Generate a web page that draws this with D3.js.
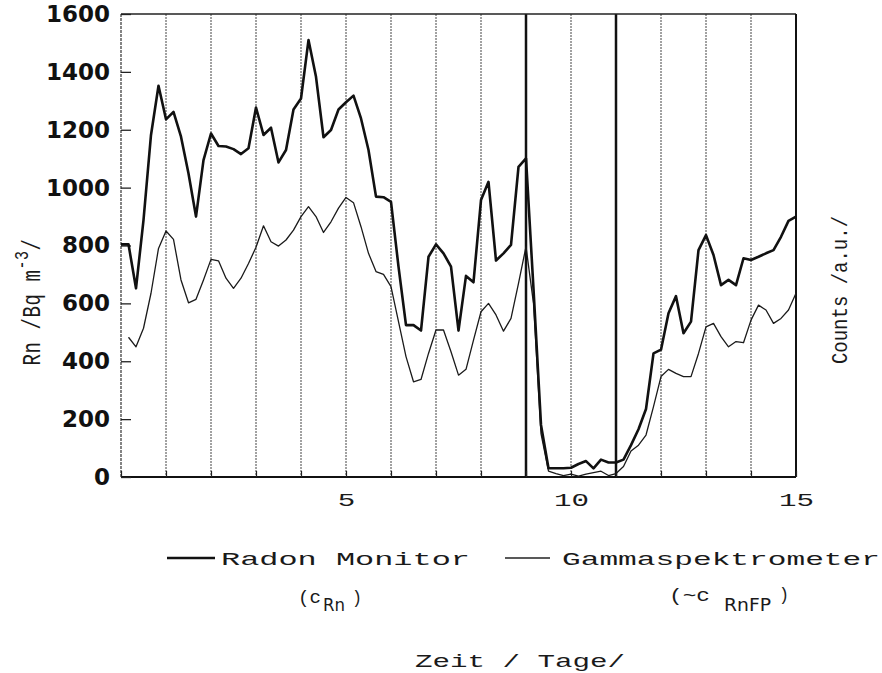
<!DOCTYPE html>
<html>
<head>
<meta charset="utf-8">
<script src="https://cdn.jsdelivr.net/npm/d3@7"></script>
<style>
body { margin: 0; background: #fff; }
svg { display: block; }
.typ { font-family: "Liberation Mono", "DejaVu Sans Mono", monospace; fill: #1a1a1a; }
.sub { font-family: "Liberation Sans Narrow", "DejaVu Sans Condensed", sans-serif; fill: #1a1a1a; }
</style>
</head>
<body>
<div id="chart-area"></div>
<script>
// readings every 4 hours (6 per day), day 0 .. 15
var stepsPerDay = 6;

// Radon Monitor (c_Rn), Bq m^-3
var radon = [
  804, 804, 652, 888, 1182, 1352,
  1236, 1262, 1176, 1049, 900, 1095,
  1187, 1144, 1142, 1133, 1116, 1136,
  1277, 1182, 1207, 1087, 1130, 1270,
  1308, 1510, 1383, 1174, 1199, 1270,
  1295, 1318, 1239, 1130, 969, 967,
  951, 727, 525, 525, 506, 761,
  804, 773, 727, 506, 695, 673,
  957, 1020, 748, 773, 802, 1072,
  1101, 650, 180, 30, 30, 30,
  32, 45, 55, 30, 60, 50,
  50, 60, 110, 165, 235, 427,
  440, 566, 625, 497, 537, 784,
  836, 767, 663, 681, 663, 756,
  750, 761, 773, 784, 830, 885,
  900
];

// Gammaspektrometer (~c_RnFP), counts (a.u.) on the same scale
var gamma = [
  null, 483, 450, 514, 635, 790,
  850, 821, 681, 602, 614, 681,
  752, 747, 687, 652, 687, 738,
  794, 868, 813, 798, 819, 853,
  900, 934, 900, 845, 882, 929,
  966, 948, 865, 773, 710, 700,
  658, 537, 416, 329, 337, 427,
  508, 508, 433, 352, 372, 473,
  571, 600, 560, 504, 548, 669,
  796, 600, 150, 20, 12, 5,
  10, 3, 10, 15, 20, 5,
  12, 36, 90, 110, 145, 243,
  347, 372, 358, 347, 347, 427,
  519, 531, 485, 450, 468, 464,
  542, 594, 577, 531, 548, 577,
  635
];

var yTicks = [0, 200, 400, 600, 800, 1000, 1200, 1400, 1600];
var xTicks = [0, 1, 2, 3, 4, 5, 6, 7, 8, 9, 10, 11, 12, 13, 14, 15];
var xLabels = [5, 10, 15];
var dayLines = [1, 2, 3, 4, 5, 6, 7, 8, 10, 12, 13, 14];
var markLines = [9, 11];

var W = 882, H = 673;
var margin = {top: 14, left: 121, right: 86, bottom: 196};
var width = W - margin.left - margin.right;
var height = H - margin.top - margin.bottom;

var svg = d3.select("#chart-area").append("svg")
  .attr("width", W).attr("height", H);

var g = svg.append("g")
  .attr("transform", "translate(" + margin.left + "," + margin.top + ")");

var x = d3.scaleLinear().domain([0, 15]).range([0, width]);
var y = d3.scaleLinear().domain([0, 1600]).range([height, 0]);

// dotted day lines
g.selectAll(".day").data(dayLines).enter().append("line")
  .attr("class", "day")
  .attr("x1", d => x(d)).attr("x2", d => x(d))
  .attr("y1", 0).attr("y2", height)
  .attr("stroke", "#444").attr("stroke-width", 1)
  .attr("stroke-dasharray", "2,1");

// heavy lines at day 9 and 11
g.selectAll(".mark").data(markLines).enter().append("line")
  .attr("class", "mark")
  .attr("x1", d => x(d)).attr("x2", d => x(d))
  .attr("y1", 0).attr("y2", height)
  .attr("stroke", "#111").attr("stroke-width", 2.5);

// frame
g.append("line").attr("x1", 0).attr("x2", width).attr("y1", 0).attr("y2", 0)
  .attr("stroke", "#222").attr("stroke-width", 1.5);
g.append("line").attr("x1", width).attr("x2", width).attr("y1", 0).attr("y2", height)
  .attr("stroke", "#111").attr("stroke-width", 2);
g.append("line").attr("x1", 0).attr("x2", width).attr("y1", height).attr("y2", height)
  .attr("stroke", "#111").attr("stroke-width", 2);
g.append("line").attr("x1", 0).attr("x2", 0).attr("y1", 0).attr("y2", height)
  .attr("stroke", "#333").attr("stroke-width", 1.2).attr("stroke-dasharray", "3,1");

// y axis
var yAxis = d3.axisLeft(y).tickValues(yTicks)
  .tickSizeInner(-10).tickSizeOuter(0).tickPadding(11)
  .tickFormat(d3.format("d"));
var yG = g.append("g").call(yAxis);
yG.select(".domain").remove();
yG.selectAll("line").attr("stroke", "#222").attr("stroke-width", 1.3);
yG.selectAll("text")
  .attr("font-family", "'DejaVu Sans', sans-serif")
  .attr("font-weight", "bold").attr("font-size", 23).attr("fill", "#111");

// x axis
var xAxis = d3.axisBottom(x).tickValues(xTicks)
  .tickSizeInner(-6).tickSizeOuter(0).tickPadding(16)
  .tickFormat(d => xLabels.indexOf(d) >= 0 ? d : "");
var xG = g.append("g").attr("transform", "translate(0," + height + ")").call(xAxis);
xG.select(".domain").remove();
xG.selectAll("line").attr("stroke", "#222").attr("stroke-width", 1.2);
xG.selectAll("text")
  .attr("class", "typ")
  .attr("font-family", null)
  .attr("font-size", 18)
  .attr("textLength", d => xLabels.indexOf(d) >= 0 ? String(d).length * 17.5 : null)
  .attr("lengthAdjust", "spacingAndGlyphs");

// series
var line = d3.line()
  .defined(d => d != null)
  .x((d, i) => x(i / stepsPerDay))
  .y(d => y(d));

g.append("path").datum(gamma)
  .attr("fill", "none").attr("stroke", "#1a1a1a").attr("stroke-width", 1.3)
  .attr("stroke-linejoin", "round")
  .attr("d", line);

g.append("path").datum(radon)
  .attr("fill", "none").attr("stroke", "#111").attr("stroke-width", 2.6)
  .attr("stroke-linejoin", "round")
  .attr("d", line);

// legend
svg.append("line").attr("x1", 167).attr("x2", 215).attr("y1", 558).attr("y2", 558)
  .attr("stroke", "#111").attr("stroke-width", 2.4);
svg.append("text").attr("class", "typ").attr("x", 221).attr("y", 565)
  .attr("font-size", 19).attr("textLength", 249).attr("lengthAdjust", "spacingAndGlyphs")
  .text("Radon Monitor");
svg.append("line").attr("x1", 505).attr("x2", 550).attr("y1", 558).attr("y2", 558)
  .attr("stroke", "#222").attr("stroke-width", 1.4);
svg.append("text").attr("class", "typ").attr("x", 562).attr("y", 565)
  .attr("font-size", 19).attr("textLength", 318).attr("lengthAdjust", "spacingAndGlyphs")
  .text("Gammaspektrometer");

// (c_Rn)
svg.append("text").attr("class", "typ").attr("x", 298).attr("y", 603)
  .attr("font-size", 19).attr("textLength", 23).attr("lengthAdjust", "spacingAndGlyphs")
  .text("(c");
svg.append("text").attr("class", "sub").attr("x", 323).attr("y", 611)
  .attr("font-size", 17).attr("textLength", 22).attr("lengthAdjust", "spacingAndGlyphs")
  .text("Rn");
svg.append("text").attr("class", "typ").attr("x", 352).attr("y", 603)
  .attr("font-size", 19).attr("textLength", 10).attr("lengthAdjust", "spacingAndGlyphs")
  .text(")");

// (~c_RnFP)
svg.append("text").attr("class", "typ").attr("x", 669).attr("y", 601)
  .attr("font-size", 19).attr("textLength", 41).attr("lengthAdjust", "spacingAndGlyphs")
  .text("(~c");
svg.append("text").attr("class", "sub").attr("x", 724).attr("y", 611)
  .attr("font-size", 17).attr("textLength", 47).attr("lengthAdjust", "spacingAndGlyphs")
  .text("RnFP");
svg.append("text").attr("class", "typ").attr("x", 779).attr("y", 600)
  .attr("font-size", 19).attr("textLength", 10).attr("lengthAdjust", "spacingAndGlyphs")
  .text(")");

// x title
svg.append("text").attr("class", "typ").attr("x", 415).attr("y", 667)
  .attr("font-size", 19).attr("textLength", 210).attr("lengthAdjust", "spacingAndGlyphs")
  .text("Zeit / Tage/");

// y titles
var yt = svg.append("text").attr("class", "typ")
  .attr("transform", "translate(40,302) scale(1.35,1) rotate(-90)")
  .attr("text-anchor", "middle").attr("font-size", 19).attr("letter-spacing", 0.6);
yt.append("tspan").text("Rn /Bq m");
yt.append("tspan").attr("dy", -9).attr("font-size", 15).text("-3");
yt.append("tspan").attr("dy", 9).text("/");

svg.append("text").attr("class", "typ")
  .attr("transform", "translate(847,290) scale(1.2,1) rotate(-90)")
  .attr("text-anchor", "middle").attr("font-size", 19)
  .text("Counts /a.u./");
</script>
</body>
</html>
